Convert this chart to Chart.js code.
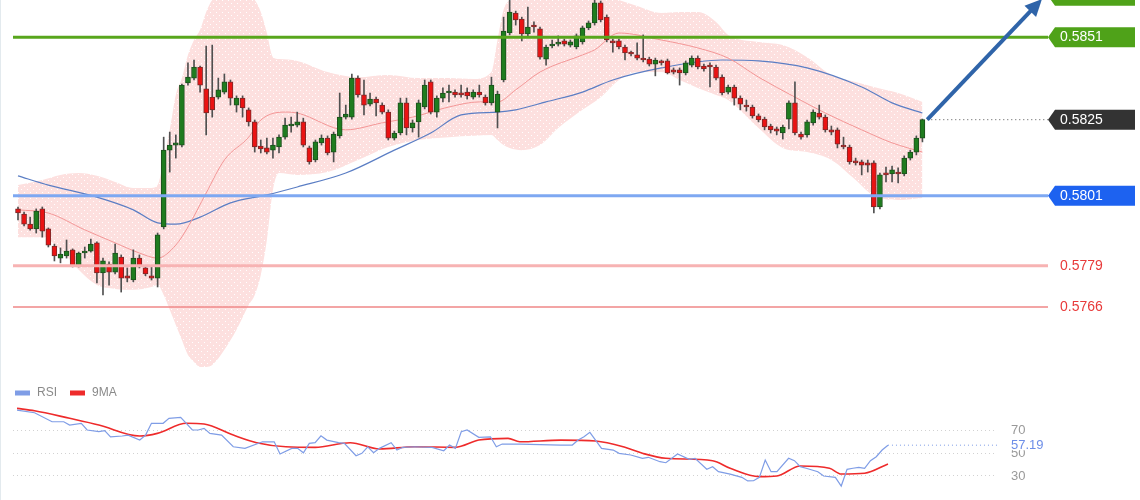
<!DOCTYPE html>
<html>
<head>
<meta charset="utf-8">
<script src="https://cdn.jsdelivr.net/npm/chart.js@4.4.0/dist/chart.umd.min.js"></script>
<style>
body{margin:0;background:#fff;}
#lienzo{position:relative;width:1140px;height:500px;overflow:hidden;}
#borde{position:absolute;left:0;top:0;width:1px;height:500px;background:#e3eaee;}
#grafica{position:absolute;left:0;top:0;}
#rsi{position:absolute;left:0;top:372px;}
</style>
</head>
<body>
<div id="lienzo">
  <canvas id="grafica" width="1140" height="372"></canvas>
  <canvas id="rsi" width="1140" height="128"></canvas>
  <div id="borde"></div>
</div>
<script>
// velas (una por periodo)
const opens = [
0.57969,0.57953,0.57921,0.57906,0.57969,0.57906,0.57852,0.57814,0.57821,0.57840,
0.57789,0.57830,0.57836,0.57862,0.57767,0.57795,0.57770,0.57817,0.57758,0.57745,
0.57814,0.57783,0.57758,0.57751,0.57912,0.58154,0.58170,0.58170,0.58366,0.58381,
0.58416,0.58347,0.58321,0.58321,0.58337,0.58369,0.58296,0.58318,0.58281,0.58243,
0.58167,0.58161,0.58154,0.58164,0.58195,0.58230,0.58233,0.58243,0.58161,0.58123,
0.58177,0.58192,0.58148,0.58199,0.58258,0.58258,0.58381,0.58328,0.58299,0.58315,
0.58296,0.58274,0.58192,0.58208,0.58303,0.58224,0.58243,0.58290,0.58369,0.58274,
0.58318,0.58334,0.58337,0.58334,0.58337,0.58321,0.58337,0.58321,0.58303,0.58274,
0.58375,0.58523,0.58586,0.58567,0.58520,0.58545,0.58536,0.58441,0.58482,0.58488,
0.58498,0.58485,0.58479,0.58495,0.58539,0.58555,0.58618,0.58573,0.58498,0.58498,
0.58479,0.58460,0.58454,0.58444,0.58441,0.58425,0.58432,0.58435,0.58407,0.58407,
0.58397,0.58422,0.58444,0.58419,0.58419,0.58416,0.58384,0.58337,0.58353,0.58318,
0.58296,0.58290,0.58262,0.58252,0.58230,0.58221,0.58208,0.58252,0.58303,0.58205,
0.58202,0.58240,0.58271,0.58258,0.58218,0.58218,0.58170,0.58164,0.58117,0.58117,
0.58114,0.58114,0.57975,0.58082,0.58079,0.58085,0.58079,0.58129,0.58148,0.58192];
const highs = [
0.57975,0.57959,0.57943,0.57969,0.57975,0.57909,0.57858,0.57846,0.57871,0.57843,
0.57833,0.57849,0.57874,0.57865,0.57814,0.57802,0.57858,0.57824,0.57783,0.57840,
0.57824,0.57789,0.57789,0.57893,0.58195,0.58211,0.58202,0.58362,0.58429,0.58438,
0.58419,0.58482,0.58485,0.58381,0.58394,0.58375,0.58325,0.58325,0.58287,0.58249,
0.58186,0.58192,0.58192,0.58202,0.58255,0.58258,0.58274,0.58255,0.58167,0.58186,
0.58202,0.58199,0.58211,0.58334,0.58296,0.58394,0.58388,0.58375,0.58334,0.58321,
0.58303,0.58281,0.58214,0.58318,0.58318,0.58249,0.58312,0.58375,0.58375,0.58325,
0.58350,0.58359,0.58344,0.58359,0.58350,0.58344,0.58359,0.58328,0.58384,0.58340,
0.58573,0.58627,0.58592,0.58573,0.58605,0.58558,0.58542,0.58485,0.58501,0.58514,
0.58504,0.58501,0.58520,0.58545,0.58561,0.58627,0.58624,0.58580,0.58504,0.58504,
0.58485,0.58466,0.58492,0.58517,0.58447,0.58444,0.58438,0.58441,0.58413,0.58413,
0.58435,0.58451,0.58451,0.58425,0.58429,0.58422,0.58391,0.58359,0.58359,0.58325,
0.58312,0.58296,0.58268,0.58258,0.58236,0.58227,0.58233,0.58309,0.58369,0.58211,
0.58249,0.58281,0.58296,0.58265,0.58230,0.58224,0.58195,0.58170,0.58129,0.58123,
0.58123,0.58120,0.58082,0.58101,0.58104,0.58098,0.58136,0.58154,0.58199,0.58252];
const lows = [
0.57934,0.57915,0.57902,0.57893,0.57880,0.57849,0.57805,0.57799,0.57814,0.57786,
0.57786,0.57814,0.57833,0.57736,0.57698,0.57729,0.57764,0.57707,0.57739,0.57739,
0.57783,0.57758,0.57745,0.57723,0.57906,0.58085,0.58129,0.58164,0.58359,0.58375,
0.58337,0.58202,0.58258,0.58315,0.58331,0.58296,0.58274,0.58258,0.58230,0.58148,
0.58145,0.58142,0.58129,0.58145,0.58189,0.58211,0.58227,0.58164,0.58110,0.58117,
0.58170,0.58139,0.58117,0.58192,0.58252,0.58252,0.58321,0.58265,0.58293,0.58262,
0.58268,0.58186,0.58186,0.58202,0.58202,0.58211,0.58195,0.58284,0.58268,0.58258,
0.58306,0.58306,0.58321,0.58321,0.58315,0.58315,0.58321,0.58296,0.58296,0.58224,
0.58369,0.58517,0.58548,0.58498,0.58510,0.58526,0.58441,0.58422,0.58476,0.58482,
0.58482,0.58479,0.58473,0.58488,0.58533,0.58548,0.58558,0.58495,0.58463,0.58473,
0.58438,0.58451,0.58438,0.58432,0.58419,0.58388,0.58422,0.58394,0.58394,0.58359,
0.58391,0.58416,0.58410,0.58403,0.58353,0.58375,0.58328,0.58331,0.58296,0.58281,
0.58277,0.58255,0.58243,0.58218,0.58208,0.58202,0.58189,0.58221,0.58202,0.58189,
0.58195,0.58233,0.58252,0.58211,0.58202,0.58161,0.58158,0.58110,0.58107,0.58076,
0.58085,0.57956,0.57969,0.58054,0.58054,0.58051,0.58073,0.58123,0.58139,0.58180];
const closes = [
0.57956,0.57921,0.57906,0.57962,0.57899,0.57855,0.57821,0.57827,0.57836,0.57789,
0.57830,0.57836,0.57858,0.57767,0.57805,0.57770,0.57830,0.57751,0.57751,0.57814,
0.57786,0.57764,0.57751,0.57887,0.58154,0.58170,0.58177,0.58359,0.58384,0.58416,
0.58359,0.58271,0.58281,0.58344,0.58369,0.58318,0.58318,0.58287,0.58243,0.58164,
0.58158,0.58148,0.58170,0.58195,0.58233,0.58236,0.58243,0.58170,0.58117,0.58180,
0.58192,0.58145,0.58205,0.58258,0.58268,0.58381,0.58328,0.58296,0.58315,0.58303,
0.58274,0.58192,0.58208,0.58303,0.58224,0.58240,0.58303,0.58359,0.58274,0.58318,
0.58334,0.58337,0.58328,0.58328,0.58325,0.58337,0.58328,0.58303,0.58359,0.58331,
0.58529,0.58589,0.58564,0.58520,0.58542,0.58542,0.58447,0.58479,0.58488,0.58492,
0.58488,0.58495,0.58514,0.58539,0.58555,0.58618,0.58564,0.58501,0.58492,0.58479,
0.58460,0.58457,0.58444,0.58438,0.58425,0.58438,0.58429,0.58397,0.58400,0.58397,
0.58429,0.58444,0.58416,0.58410,0.58416,0.58381,0.58334,0.58353,0.58318,0.58299,
0.58290,0.58262,0.58249,0.58227,0.58218,0.58214,0.58227,0.58303,0.58208,0.58195,
0.58243,0.58274,0.58258,0.58218,0.58211,0.58173,0.58164,0.58117,0.58114,0.58107,
0.58107,0.57975,0.58076,0.58076,0.58092,0.58079,0.58129,0.58148,0.58192,0.58250];

const bbX = [0,4,7,10,13,16,19,22,23,24,25,26,27,28,29,30,31,32,34,36,
  38,39,40,41,42,43,46,51,56,61,66,71,75,78,79,80,81,83,86,89,
  93,96,99,102,106,109,112,115,117,122,126,130,134,138,141,145,149];
const bbUpper = [0.58044,0.58060,0.58076,0.58082,0.58073,0.58054,0.58035,0.58035,0.58044,0.58123,
  0.58218,0.58328,0.58381,0.58454,0.58501,0.58533,0.58589,0.58627,0.58652,0.58659,
  0.58643,0.58627,0.58589,0.58523,0.58447,0.58441,0.58435,0.58400,0.58384,0.58391,
  0.58381,0.58381,0.58378,0.58400,0.58501,0.58596,0.58627,0.58646,0.58659,0.58659,
  0.58659,0.58643,0.58627,0.58608,0.58586,0.58589,0.58589,0.58558,0.58517,0.58495,
  0.58485,0.58447,0.58391,0.58369,0.58353,0.58334,0.58306];
const bbLower = [0.57880,0.57880,0.57840,0.57777,0.57729,0.57717,0.57714,0.57723,0.57729,0.57698,
  0.57651,0.57603,0.57556,0.57509,0.57487,0.57471,0.57471,0.57477,0.57525,0.57588,
  0.57666,0.57698,0.57761,0.57871,0.58029,0.58082,0.58076,0.58085,0.58123,0.58164,
  0.58186,0.58195,0.58199,0.58202,0.58186,0.58170,0.58161,0.58154,0.58170,0.58224,
  0.58281,0.58321,0.58375,0.58400,0.58400,0.58375,0.58350,0.58328,0.58312,0.58224,
  0.58161,0.58148,0.58123,0.58060,0.58010,0.57997,0.58003];
const mediaX = [0,5,11,16,20,23,26,28,31,34,38,40,44,46,54,60,65,71,76,79,82,86,93,95,99,106,112,117,122,128,133,139,144,149];
const media = [0.57966,0.57956,0.57903,0.57862,0.57830,0.57814,0.57855,0.57912,0.58019,0.58123,
  0.58195,0.58249,0.58274,0.58271,0.58218,0.58240,0.58258,0.58290,0.58306,0.58306,
  0.58344,0.58400,0.58454,0.58470,0.58523,0.58501,0.58476,0.58444,0.58384,0.58321,
  0.58271,0.58218,0.58177,0.58148];
const lentaX = [0,5,13,19,23,26,30,35,41,46,54,62,68,73,79,82,87,93,98,106,116,122,130,139,144,149];
const lenta = [0.58073,0.58044,0.58006,0.57966,0.57925,0.57921,0.57943,0.57988,0.58013,0.58038,
  0.58082,0.58154,0.58208,0.58265,0.58274,0.58281,0.58306,0.58337,0.58375,0.58413,
  0.58438,0.58435,0.58413,0.58353,0.58303,0.58271];

// niveles y flecha
const niveles = [0.5864, 0.5851, 0.5825, 0.5801, 0.5779, 0.5766];
const flechaX = [149.8, 168.7];
const flechaY = [0.5825, 0.5863];

// RSI
const rsiX = [0,3,6,8,9,11,12,14,15,16,18,19,21,22,23,25,26,28,30,31,
  32,33,35,37,39,42,44,45,47,48,49,50,51,52,53,55,56,58,59,60,
  61,62,64,65,66,68,71,73,74,75,76,77,79,81,82,83,86,93,95,96,
  97,98,100,102,103,105,107,108,110,111,113,115,116,118,119,120,122,124,125,126,
  127,128,129,130,132,133,134,135,137,138,140,141,142,143,144,145,146,147,148,149];
const rsiValores = [88.2,85.8,77.9,77.9,75.0,76.5,70.6,69.1,70.0,64.6,65.3,66.1,61.7,66.1,76.5,76.5,80.9,81.8,70.6,70.6,
  72.0,67.6,66.1,55.8,54.4,60.2,60.2,49.4,54.4,54.4,50.5,58.8,59.4,65.5,61.7,59.4,58.8,47.9,50.0,55.8,
  50.5,54.4,59.4,52.9,55.3,55.8,55.3,52.3,57.3,54.4,69.1,70.6,64.1,64.6,55.8,58.2,58.2,57.3,57.3,61.7,
  64.6,68.5,54.4,52.9,50.0,48.5,45.6,46.5,42.6,41.7,49.4,44.7,45.6,35.9,38.2,33.8,31.7,28.8,25.6,25.8,
  28.8,44.1,33.8,33.8,45.6,43.5,38.2,36.8,33.8,30.0,28.8,21.1,35.9,36.8,37.6,36.8,43.5,47.0,52.9,57.19];
const maX = [0,3,9,14,21,24,29,32,37,41,46,51,57,62,68,75,79,84,86,93,99,104,107,111,119,122,127,130,134,139,141,145,149];
const maValores = [89.7,87.6,80.9,75.0,65.3,67.6,76.5,75.9,66.1,59.4,55.8,55.3,59.4,53.8,55.8,55.3,61.7,63.2,60.2,61.7,
  60.9,55.3,50.0,45.6,43.5,36.8,29.4,30.0,38.8,36.8,31.7,32.4,40.6];
const rsiMarcas = [30, 50, 70];

const puntos = (xs, ys) => xs.map((x, i) => ({x: x, y: ys[i]}));

function patronRosa(){
    const c = document.createElement("canvas");
    c.width = 6; c.height = 6;
    const g = c.getContext("2d");
    g.fillStyle = "#fde0df";
    g.fillRect(0, 0, 6, 6);
    g.fillStyle = "#ffffff";
    g.fillRect(0, 0, 1, 1);
    g.fillRect(3, 3, 1, 1);
    return g.createPattern(c, "repeat");
}

const estilosNivel = [
    {linea: "#58a61c", ancho: 3, caja: "#4fa219"},
    {linea: "#58a61c", ancho: 3, caja: "#4fa219"},
    {linea: "#555555", ancho: 1, punteada: true, caja: "#333333"},
    {linea: "#7ea8f2", ancho: 3, caja: "#1d62f0"},
    {linea: "#f7b3b3", ancho: 3, texto: "#e83a3a"},
    {linea: "#ef8787", ancho: 1.5, texto: "#e83a3a"}
];

function etiqueta(ctx, x, y, texto, fondo){
    const alto = 20, largo = 87, punta = 7;
    ctx.fillStyle = fondo;
    ctx.beginPath();
    ctx.moveTo(x, y);
    ctx.lineTo(x + punta, y - alto / 2);
    ctx.lineTo(x + largo, y - alto / 2);
    ctx.lineTo(x + largo, y + alto / 2);
    ctx.lineTo(x + punta, y + alto / 2);
    ctx.closePath();
    ctx.fill();
    ctx.fillStyle = "#ffffff";
    ctx.fillText(texto, x + 12, y);
}

const pluginNiveles = {
    id: "niveles",
    afterDatasetsDraw(chart){
        const {ctx, chartArea: area, scales: {x, y}} = chart;
        ctx.save();
        const inicioFlecha = x.getPixelForValue(flechaX[0]);
        niveles.forEach((p, k) => {
            const est = estilosNivel[k];
            const py = y.getPixelForValue(p);
            ctx.beginPath();
            ctx.strokeStyle = est.linea;
            ctx.lineWidth = est.ancho;
            ctx.setLineDash(est.punteada ? [1, 3] : []);
            ctx.moveTo(est.punteada ? inicioFlecha : area.left, py);
            ctx.lineTo(area.right, py);
            ctx.stroke();
        });
        ctx.setLineDash([]);

        // flecha
        const x0 = inicioFlecha, y0 = y.getPixelForValue(flechaY[0]);
        const x1 = x.getPixelForValue(flechaX[1]), y1 = y.getPixelForValue(flechaY[1]);
        const ang = Math.atan2(y1 - y0, x1 - x0);
        const cabeza = 17, media = 8;
        ctx.strokeStyle = "#2f64a9";
        ctx.fillStyle = "#2f64a9";
        ctx.lineWidth = 4;
        ctx.beginPath();
        ctx.moveTo(x0, y0);
        ctx.lineTo(x1 - cabeza * 0.8 * Math.cos(ang), y1 - cabeza * 0.8 * Math.sin(ang));
        ctx.stroke();
        const bx = x1 - cabeza * Math.cos(ang), by = y1 - cabeza * Math.sin(ang);
        ctx.beginPath();
        ctx.moveTo(x1, y1);
        ctx.lineTo(bx + media * Math.sin(ang), by - media * Math.cos(ang));
        ctx.lineTo(bx - media * Math.sin(ang), by + media * Math.cos(ang));
        ctx.closePath();
        ctx.fill();

        ctx.font = "14px Arial, 'Liberation Sans', sans-serif";
        ctx.textBaseline = "middle";
        niveles.forEach((p, k) => {
            const est = estilosNivel[k];
            const py = y.getPixelForValue(p);
            const texto = p.toFixed(4);
            if (est.caja){
                etiqueta(ctx, area.right, py, texto, est.caja);
            }else{
                ctx.fillStyle = est.texto;
                ctx.fillText(texto, area.right + 12, py);
            }
        });
        ctx.restore();
    }
};

const velas = opens.map((o, i) => ({x: i, y: [o, closes[i]]}));
const mechas = highs.map((h, i) => ({x: i, y: [lows[i], h]}));
const colorVela = opens.map((o, i) => closes[i] >= o ? "#1f7c1f" : "#ea1313");
const bordeVela = opens.map((o, i) => closes[i] >= o ? "#1d4f1d" : "#7a2a2a");

new Chart("grafica", {
    type: "bar",
    data: {
        datasets: [
            {
                type: "line",
                data: puntos(bbX, bbUpper),
                borderColor: "rgba(0,0,0,0)",
                borderWidth: 0,
                pointRadius: 0,
                fill: "+1",
                backgroundColor: patronRosa(),
                cubicInterpolationMode: "monotone",
                order: 5
            },
            {
                type: "line",
                data: puntos(bbX, bbLower),
                borderColor: "rgba(0,0,0,0)",
                borderWidth: 0,
                pointRadius: 0,
                fill: false,
                cubicInterpolationMode: "monotone",
                order: 5
            },
            {
                type: "line",
                data: puntos(mediaX, media),
                borderColor: "#f49696",
                borderWidth: 1,
                pointRadius: 0,
                cubicInterpolationMode: "monotone",
                order: 3
            },
            {
                type: "line",
                data: puntos(lentaX, lenta),
                borderColor: "#5b7ec4",
                borderWidth: 1.2,
                pointRadius: 0,
                cubicInterpolationMode: "monotone",
                order: 3
            },
            {
                data: mechas,
                backgroundColor: "#505050",
                barThickness: 1,
                grouped: false,
                order: 2
            },
            {
                data: velas,
                backgroundColor: colorVela,
                borderColor: bordeVela,
                borderWidth: 1,
                borderSkipped: false,
                barThickness: 5,
                minBarLength: 2,
                grouped: false,
                order: 1
            }
        ]
    },
    options: {
        responsive: false,
        animation: false,
        layout: {padding: {left: 13, right: 92, top: 0, bottom: 0}},
        scales: {
            x: {type: "linear", min: -0.824, max: 169.69, offset: false, display: false},
            y: {type: "linear", min: 0.574552, max: 0.58627, beginAtZero: false, display: false}
        },
        plugins: {
            legend: {display: false},
            tooltip: {enabled: false}
        }
    },
    plugins: [pluginNiveles]
});

const pluginRsi = {
    id: "extrasRsi",
    afterDraw(chart){
        const {ctx, chartArea: area, scales: {x, y}} = chart;
        ctx.save();
        // leyenda
        ctx.font = "12px Arial, 'Liberation Sans', sans-serif";
        ctx.textBaseline = "middle";
        const posiciones = [15, 70];
        chart.data.datasets.forEach((ds, k) => {
            ctx.fillStyle = ds.borderColor;
            ctx.fillRect(posiciones[k], 18.5, 15, 5);
            ctx.fillStyle = "#8a8a8a";
            ctx.fillText(ds.label, posiciones[k] + 22, 21);
        });
        // ultimo valor
        const n = rsiValores.length - 1;
        const yv = y.getPixelForValue(rsiValores[n]);
        ctx.strokeStyle = "#7f9de6";
        ctx.lineWidth = 1;
        ctx.setLineDash([1, 3]);
        ctx.beginPath();
        ctx.moveTo(x.getPixelForValue(rsiX[n]), yv);
        ctx.lineTo(area.right, yv);
        ctx.stroke();
        ctx.setLineDash([]);
        ctx.fillStyle = "#ffffff";
        ctx.fillRect(area.right + 12, yv - 8, 42, 13);
        ctx.fillStyle = "#6d8ee8";
        ctx.font = "13px Arial, 'Liberation Sans', sans-serif";
        ctx.fillText(rsiValores[n].toFixed(2), area.right + 14, yv);
        ctx.restore();
    }
};

new Chart("rsi", {
    type: "line",
    data: {
        datasets: [
            {
                label: "RSI",
                data: puntos(rsiX, rsiValores),
                borderColor: "#7f9de6",
                borderWidth: 1.2,
                pointRadius: 0,
                tension: 0
            },
            {
                label: "9MA",
                data: puntos(maX, maValores),
                borderColor: "#ee2b2b",
                borderWidth: 1.6,
                pointRadius: 0,
                cubicInterpolationMode: "monotone"
            }
        ]
    },
    options: {
        responsive: false,
        animation: false,
        layout: {padding: {left: 13, right: 113, top: 0, bottom: 0}},
        scales: {
            x: {type: "linear", min: -0.684, max: 167.65, display: false},
            y: {
                position: "right",
                min: 8.8,
                max: 121.8,
                afterBuildTicks: (eje) => { eje.ticks = rsiMarcas.map(v => ({value: v})); },
                afterFit: (eje) => {
                    eje.width = 30;
                    eje.paddingTop = 0;
                    eje.paddingBottom = 0;
                },
                grid: {color: "#d2d2d2", drawTicks: false},
                border: {display: false, dash: [1, 3]},
                ticks: {color: "#999999", padding: 14, font: {size: 13, family: "Arial, 'Liberation Sans', sans-serif"}}
            }
        },
        plugins: {
            legend: {display: false},
            tooltip: {enabled: false}
        }
    },
    plugins: [pluginRsi]
});
</script>
</body>
</html>
